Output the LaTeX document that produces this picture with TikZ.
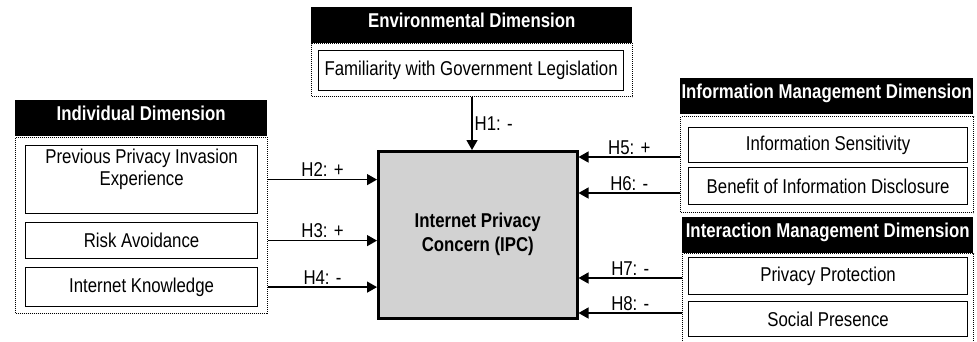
\documentclass[tikz,border=0pt]{standalone}
\usepackage{fontspec}
\setmainfont{Liberation Sans}[FakeStretch=0.84]
\usetikzlibrary{arrows.meta}

\newcommand{\dimsize}{\fontsize{20}{22}\selectfont}

\tikzset{
  dimhead/.style={fill=black, text=white, font=\dimsize\bfseries, inner sep=0pt,
    text height=20pt, text depth=16pt, anchor=north west},
  dimframe/.style={draw, densely dotted, line width=1pt, anchor=north west, inner sep=0pt},
  item/.style={draw, line width=1.2pt, fill=white, anchor=north west, inner sep=0pt,
    align=center, font=\dimsize},
  hyp/.style={-{Triangle[length=10pt,width=11pt]}, line width=1.3pt},
  hyplabel/.style={font=\dimsize, inner sep=2pt}
}

\begin{document}
\begin{tikzpicture}[x=1pt, y=-1pt]
  \useasboundingbox (0,0) rectangle (977,341);

  % environmental dimension
  \node[dimframe, minimum width=321pt, minimum height=53pt] (envframe) at (311,43) {};
  \node[dimhead, minimum width=321pt] (envhead) at (311,7) {Environmental Dimension};
  \node[item, minimum width=305pt, minimum height=40pt] (fgl) at (318,50) {Familiarity with Government Legislation};

  % individual dimension
  \node[dimframe, minimum width=252pt, minimum height=176pt] (indframe) at (15,137) {};
  \node[dimhead, minimum width=252pt] (indhead) at (15,100) {Individual Dimension};
  \node[item, minimum width=232pt, minimum height=68pt] (ppie) at (25,145) {Previous Privacy Invasion\\Experience\\[-4pt]\strut};
  \node[item, minimum width=232pt, minimum height=36pt] (risk) at (25,222) {Risk Avoidance};
  \node[item, minimum width=232pt, minimum height=39pt] (know) at (25,267) {Internet Knowledge};

  % information management dimension
  \node[dimframe, minimum width=293pt, minimum height=96pt] (infoframe) at (680,116) {};
  \node[dimhead, minimum width=293pt] (infohead) at (680,78) {Information Management Dimension};
  \node[item, minimum width=279pt, minimum height=35pt] (sens) at (688,127) {Information Sensitivity};
  \node[item, minimum width=279pt, minimum height=37pt] (benefit) at (688,167) {Benefit of Information Disclosure};

  % interaction management dimension
  \node[dimframe, minimum width=291pt, minimum height=100pt] (interframe) at (682,253) {};
  \node[dimhead, minimum width=291pt] (interhead) at (682,217) {Interaction Management Dimension};
  \node[item, minimum width=279pt, minimum height=37pt] (protect) at (688,257) {Privacy Protection};
  \node[item, minimum width=279pt, minimum height=35pt] (social) at (688,301) {Social Presence};

  % IPC
  \node[draw, line width=2.5pt, fill=gray!35, minimum width=199pt, minimum height=167pt,
    anchor=north west, align=center, font=\dimsize\bfseries] (ipc) at (377,150) {Internet Privacy\\[2pt]Concern (IPC)};

  % hypotheses
  \coordinate (h5) at (680,157);
  \coordinate (h6) at (680,193);
  \coordinate (h7) at (682,278);
  \coordinate (h8) at (682,313);

  \draw[hyp] (envframe.south) -- (envframe.south |- ipc.north) node[hyplabel, midway, right] {H1: -};
  \draw[hyp] (indframe.east |- ppie) -- (ipc.west |- ppie) node[hyplabel, midway, above] {H2: +};
  \draw[hyp] (indframe.east |- risk) -- (ipc.west |- risk) node[hyplabel, midway, above] {H3: +};
  \draw[hyp] (indframe.east |- know) -- (ipc.west |- know) node[hyplabel, midway, above] {H4: -};
  \draw[hyp] (h5) -- (h5 -| ipc.east) node[hyplabel, midway, above] {H5: +};
  \draw[hyp] (h6) -- (h6 -| ipc.east) node[hyplabel, midway, above] {H6: -};
  \draw[hyp] (h7) -- (h7 -| ipc.east) node[hyplabel, midway, above] {H7: -};
  \draw[hyp] (h8) -- (h8 -| ipc.east) node[hyplabel, midway, above] {H8: -};
\end{tikzpicture}
\end{document}
